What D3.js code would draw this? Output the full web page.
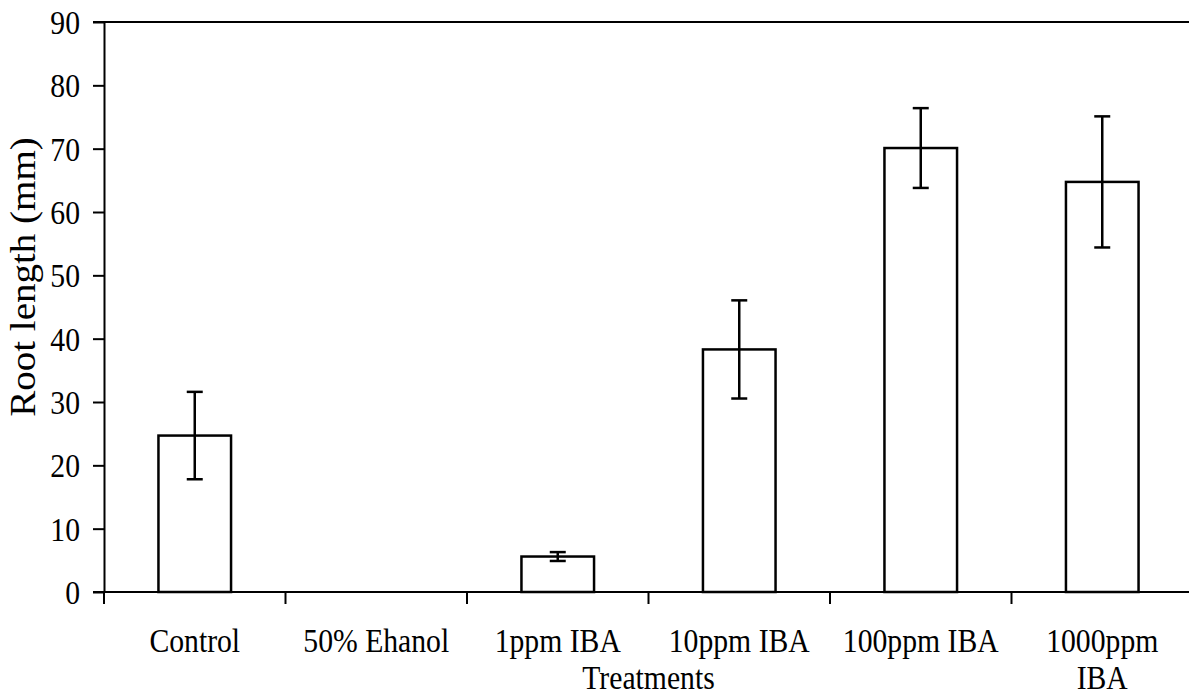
<!DOCTYPE html>
<html>
<head>
  <meta charset="utf-8">
  <title>Root length by treatment</title>
  <script src="https://cdn.jsdelivr.net/npm/d3@7"></script>
  <style>
    body { margin: 0; background: #fff; }
    text { font-family: "Liberation Serif", "Times New Roman", serif; fill: #000; }
  </style>
</head>
<body>
  <div id="chart"></div>
  <script>
    // Data
    const categories = ["Control", "50% Ehanol", "1ppm IBA", "10ppm IBA", "100ppm IBA", "1000ppm IBA"];
    const tickLines = [["Control"], ["50% Ehanol"], ["1ppm IBA"], ["10ppm IBA"], ["100ppm IBA"], ["1000ppm", "IBA"]];
    const means = [24.7, 0, 5.6, 38.3, 70.1, 64.75];
    const errors = [6.9, 0, 0.7, 7.75, 6.3, 10.35];
    const yTicks = [0, 10, 20, 30, 40, 50, 60, 70, 80, 90];

    const width = 1189, height = 697;
    const margin = { top: 22, right: -4, bottom: 105, left: 104 };
    const sx = 0.9; // text in the scan looks a bit narrow

    const svg = d3.select("#chart").append("svg")
      .attr("width", width)
      .attr("height", height);

    const x = d3.scaleBand()
      .domain(categories)
      .range([margin.left, width - margin.right])
      .paddingInner(0)
      .paddingOuter(0);

    const y = d3.scaleLinear()
      .domain([0, 90])
      .range([height - margin.bottom, margin.top]);

    const barW = x.bandwidth() * 0.4;
    const y0 = y(0);

    // top frame line, running off to the right edge
    svg.append("line")
      .attr("x1", margin.left - 11).attr("x2", width)
      .attr("y1", y(90)).attr("y2", y(90))
      .attr("stroke", "#000").attr("stroke-width", 2);

    // y axis
    const yAxis = svg.append("g")
      .attr("transform", `translate(${margin.left},0)`)
      .call(d3.axisLeft(y).tickValues(yTicks).tickSize(11).tickSizeOuter(0));
    yAxis.select(".domain").attr("stroke-width", 2);
    yAxis.selectAll(".tick line").attr("stroke-width", 2);
    yAxis.selectAll(".tick text").remove();
    yAxis.selectAll(".tick").append("text")
      .attr("transform", `translate(-24,0) scale(${sx},1)`)
      .attr("text-anchor", "end")
      .attr("dy", "0.35em")
      .attr("font-size", 33)
      .text(d => d);

    // x baseline
    svg.append("line")
      .attr("x1", margin.left - 11).attr("x2", width)
      .attr("y1", y0).attr("y2", y0)
      .attr("stroke", "#000").attr("stroke-width", 2);

    // x ticks sit on the band boundaries
    const bounds = categories.map(c => x(c)).concat([x(categories[categories.length - 1]) + x.bandwidth()]);
    svg.selectAll(".xtick")
      .data(bounds)
      .enter().append("line")
      .attr("class", "xtick")
      .attr("x1", d => d).attr("x2", d => d)
      .attr("y1", y0).attr("y2", y0 + 12)
      .attr("stroke", "#000").attr("stroke-width", 2);

    // category labels
    const lab = svg.selectAll(".xlab")
      .data(categories)
      .enter().append("text")
      .attr("class", "xlab")
      .attr("transform", d => `translate(${x(d) + x.bandwidth() / 2},652) scale(${sx},1)`)
      .attr("text-anchor", "middle")
      .attr("font-size", 33);
    lab.selectAll("tspan")
      .data((d, i) => tickLines[i])
      .enter().append("tspan")
      .attr("x", 0)
      .attr("dy", (d, i) => i === 0 ? 0 : 37)
      .text(d => d);

    // bars
    svg.selectAll(".bar")
      .data(categories.filter((c, i) => means[i] > 0))
      .enter().append("rect")
      .attr("class", "bar")
      .attr("x", d => x(d) + (x.bandwidth() - barW) / 2)
      .attr("y", d => y(means[categories.indexOf(d)]))
      .attr("width", barW)
      .attr("height", d => y0 - y(means[categories.indexOf(d)]))
      .attr("fill", "#fff")
      .attr("stroke", "#000")
      .attr("stroke-width", 2.5);

    // error bars
    const eb = svg.selectAll(".err")
      .data(categories.filter((c, i) => errors[i] > 0))
      .enter().append("g")
      .attr("class", "err")
      .attr("stroke", "#000")
      .attr("stroke-width", 2.5);
    const cx = d => x(d) + x.bandwidth() / 2;
    const hi = d => y(means[categories.indexOf(d)] + errors[categories.indexOf(d)]);
    const lo = d => y(means[categories.indexOf(d)] - errors[categories.indexOf(d)]);
    eb.append("line").attr("x1", cx).attr("x2", cx).attr("y1", hi).attr("y2", lo);
    eb.append("line").attr("x1", d => cx(d) - 8).attr("x2", d => cx(d) + 8).attr("y1", hi).attr("y2", hi);
    eb.append("line").attr("x1", d => cx(d) - 8).attr("x2", d => cx(d) + 8).attr("y1", lo).attr("y2", lo);

    // axis titles
    svg.append("text")
      .attr("transform", `translate(${(margin.left + width - margin.right) / 2},689) scale(${sx},1)`)
      .attr("text-anchor", "middle")
      .attr("font-size", 33)
      .text("Treatments");

    svg.append("text")
      .attr("transform", `translate(35,277) scale(${sx},1) rotate(-90)`)
      .attr("text-anchor", "middle")
      .attr("font-size", 39)
      .text("Root length (mm)");
  </script>
</body>
</html>
